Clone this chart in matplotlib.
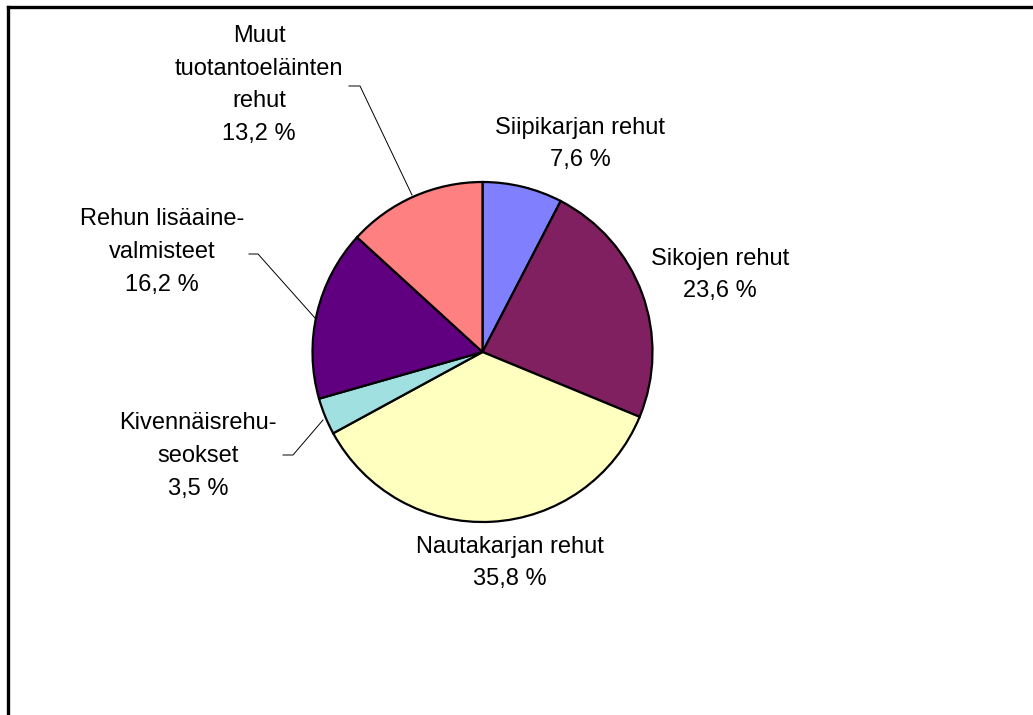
import matplotlib.pyplot as plt
from matplotlib.lines import Line2D

labels = ['Siipikarjan rehut', 'Sikojen rehut', 'Nautakarjan rehut',
          'Kivennäisrehu-\nseokset', 'Rehun lisäaine-\nvalmisteet',
          'Muut\ntuotantoeläinten\nrehut']
values = [7.6, 23.6, 35.8, 3.5, 16.2, 13.2]
colors = ['#8080FF', '#802060', '#FFFFC0', '#A0E0E0', '#600080', '#FF8080']

# label centres in pixels (x, y from top)
label_pos = [(580, 144), (720, 275), (510, 563), (198, 456), (162, 252), (259, 85)]
# leader lines (pixel coords from top), None where no line
leaders = [None, None, None,
           [(283, 455), (293, 455), (323, 420)],
           [(249, 254), (258, 254), (315, 318)],
           [(349, 86), (360, 86), (412, 195)]]

W, H = 1033, 715
plt.rcParams['font.family'] = ['Liberation Sans', 'DejaVu Sans']

fig = plt.figure(figsize=(W / 100, H / 100), dpi=100)
ax = fig.add_axes([0, 0, 1, 1])
ax.set_xlim(0, W)
ax.set_ylim(0, H)
ax.set_aspect('equal')
ax.axis('off')

ax.pie(values, colors=colors, startangle=90, counterclock=False,
       center=(482.5, H - 352), radius=170,
       wedgeprops=dict(edgecolor='black', linewidth=1.6))
ax.set_xlim(0, W)
ax.set_ylim(0, H)

for lab, v, (x, y) in zip(labels, values, label_pos):
    txt = lab + '\n' + f'{v:.1f}'.replace('.', ',') + ' %'
    ax.text(x, H - y, txt, ha='center', va='center', fontsize=17,
            linespacing=1.63, color='black')

for seg in leaders:
    if seg is None:
        continue
    xs = [p[0] for p in seg]
    ys = [H - p[1] for p in seg]
    ax.plot(xs, ys, color='black', linewidth=0.7)

# outer frame (only top and left visible in the crop)
top = 1 - 6.5 / H
fig.add_artist(Line2D([8 / W, 1], [top, top], color='black', linewidth=2.4,
                      solid_capstyle='projecting'))
fig.add_artist(Line2D([8 / W, 8 / W], [0, top], color='black', linewidth=2.4,
                      solid_capstyle='projecting'))

fig.savefig('out.png', dpi=100)
